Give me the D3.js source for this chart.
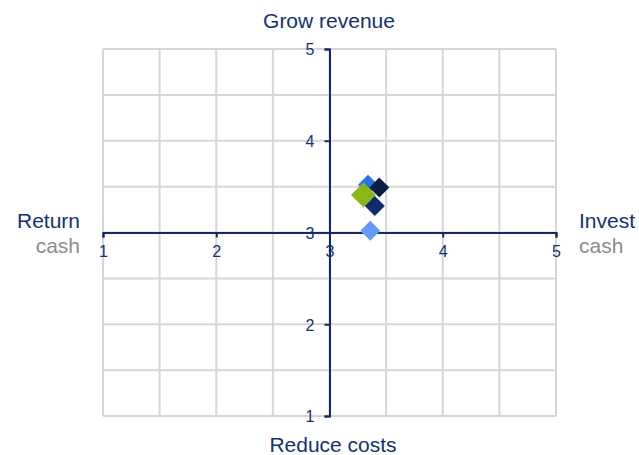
<!DOCTYPE html>
<html>
<head>
    <script src="https://d3js.org/d3.v7.min.js"></script>
    <style>
        body { margin: 0; background: #fff; font-family: Arial, "Liberation Sans", sans-serif; }
        .tick text { font-family: Arial, "Liberation Sans", sans-serif; }
    </style>
</head>
<body>
<div id="chart"></div>
<script>
    // data
    const xTicks = [1, 2, 3, 4, 5];
    const yTicks = [1, 2, 3, 4, 5];
    const pointNames = ["Light blue", "Blue", "Dark", "Green", "Navy"];
    const pointX = [3.36, 3.34, 3.44, 3.30, 3.40];
    const pointY = [3.02, 3.52, 3.49, 3.41, 3.29];
    const pointColors = ["#6699ff", "#2374ea", "#0b1e48", "#8cb615", "#0d2c70"];
    const pointSizes = [10, 10, 10, 12.5, 10];

    const width = 639, height = 455;
    const navy = "#13307a";

    const svg = d3.select("#chart").append("svg")
        .attr("width", width)
        .attr("height", height);

    const x = d3.scaleLinear().domain([1, 5]).range([103, 556]);
    const y = d3.scaleLinear().domain([1, 5]).range([416, 49]);

    // grid every 0.5
    const grid = d3.range(1, 5.01, 0.5);
    svg.append("g").selectAll("line.v").data(grid).enter().append("line")
        .attr("x1", d => x(d)).attr("x2", d => x(d))
        .attr("y1", y(5)).attr("y2", y(1))
        .attr("stroke", "#d6d6d6").attr("stroke-width", 2);
    svg.append("g").selectAll("line.h").data(grid).enter().append("line")
        .attr("y1", d => y(d)).attr("y2", d => y(d))
        .attr("x1", x(1)).attr("x2", x(5))
        .attr("stroke", "#d6d6d6").attr("stroke-width", 2);

    // axes crossing at (3,3)
    const xAxis = svg.append("g")
        .attr("transform", "translate(0," + y(3) + ")")
        .call(d3.axisBottom(x).tickValues(xTicks).tickFormat(d3.format("d")).tickSize(5).tickPadding(8));
    const yAxis = svg.append("g")
        .attr("transform", "translate(" + x(3) + ",0)")
        .call(d3.axisLeft(y).tickValues(yTicks).tickFormat(d3.format("d")).tickSize(5).tickPadding(10));

    [xAxis, yAxis].forEach(a => {
        a.select(".domain").attr("stroke", "#0f2a68").attr("stroke-width", 2);
        a.selectAll(".tick line").attr("stroke", "#0f2a68").attr("stroke-width", 2);
        a.selectAll(".tick text").attr("fill", navy).style("font-size", "16px");
    });
    yAxis.selectAll(".tick text").attr("dy", "0.36em");

    // points
    svg.append("g").selectAll("path").data(pointX).enter().append("path")
        .attr("d", (d, i) => {
            const s = pointSizes[i];
            return "M0," + (-s) + "L" + s + ",0L0," + s + "L" + (-s) + ",0Z";
        })
        .attr("transform", (d, i) => "translate(" + x(d) + "," + y(pointY[i]) + ")")
        .attr("fill", (d, i) => pointColors[i]);

    // quadrant labels
    svg.append("text").attr("x", 329).attr("y", 28)
        .attr("text-anchor", "middle").attr("fill", navy)
        .style("font-size", "21px").text("Grow revenue");
    svg.append("text").attr("x", 333).attr("y", 452)
        .attr("text-anchor", "middle").attr("fill", navy)
        .style("font-size", "21px").text("Reduce costs");
    svg.append("text").attr("x", 80).attr("y", 228)
        .attr("text-anchor", "end").attr("fill", navy)
        .style("font-size", "21px").text("Return");
    svg.append("text").attr("x", 80).attr("y", 253)
        .attr("text-anchor", "end").attr("fill", "#8c8c8c")
        .style("font-size", "21px").text("cash");
    svg.append("text").attr("x", 579).attr("y", 228)
        .attr("fill", navy)
        .style("font-size", "21px").text("Invest");
    svg.append("text").attr("x", 579).attr("y", 253)
        .attr("fill", "#8c8c8c")
        .style("font-size", "21px").text("cash");
</script>
</body>
</html>
